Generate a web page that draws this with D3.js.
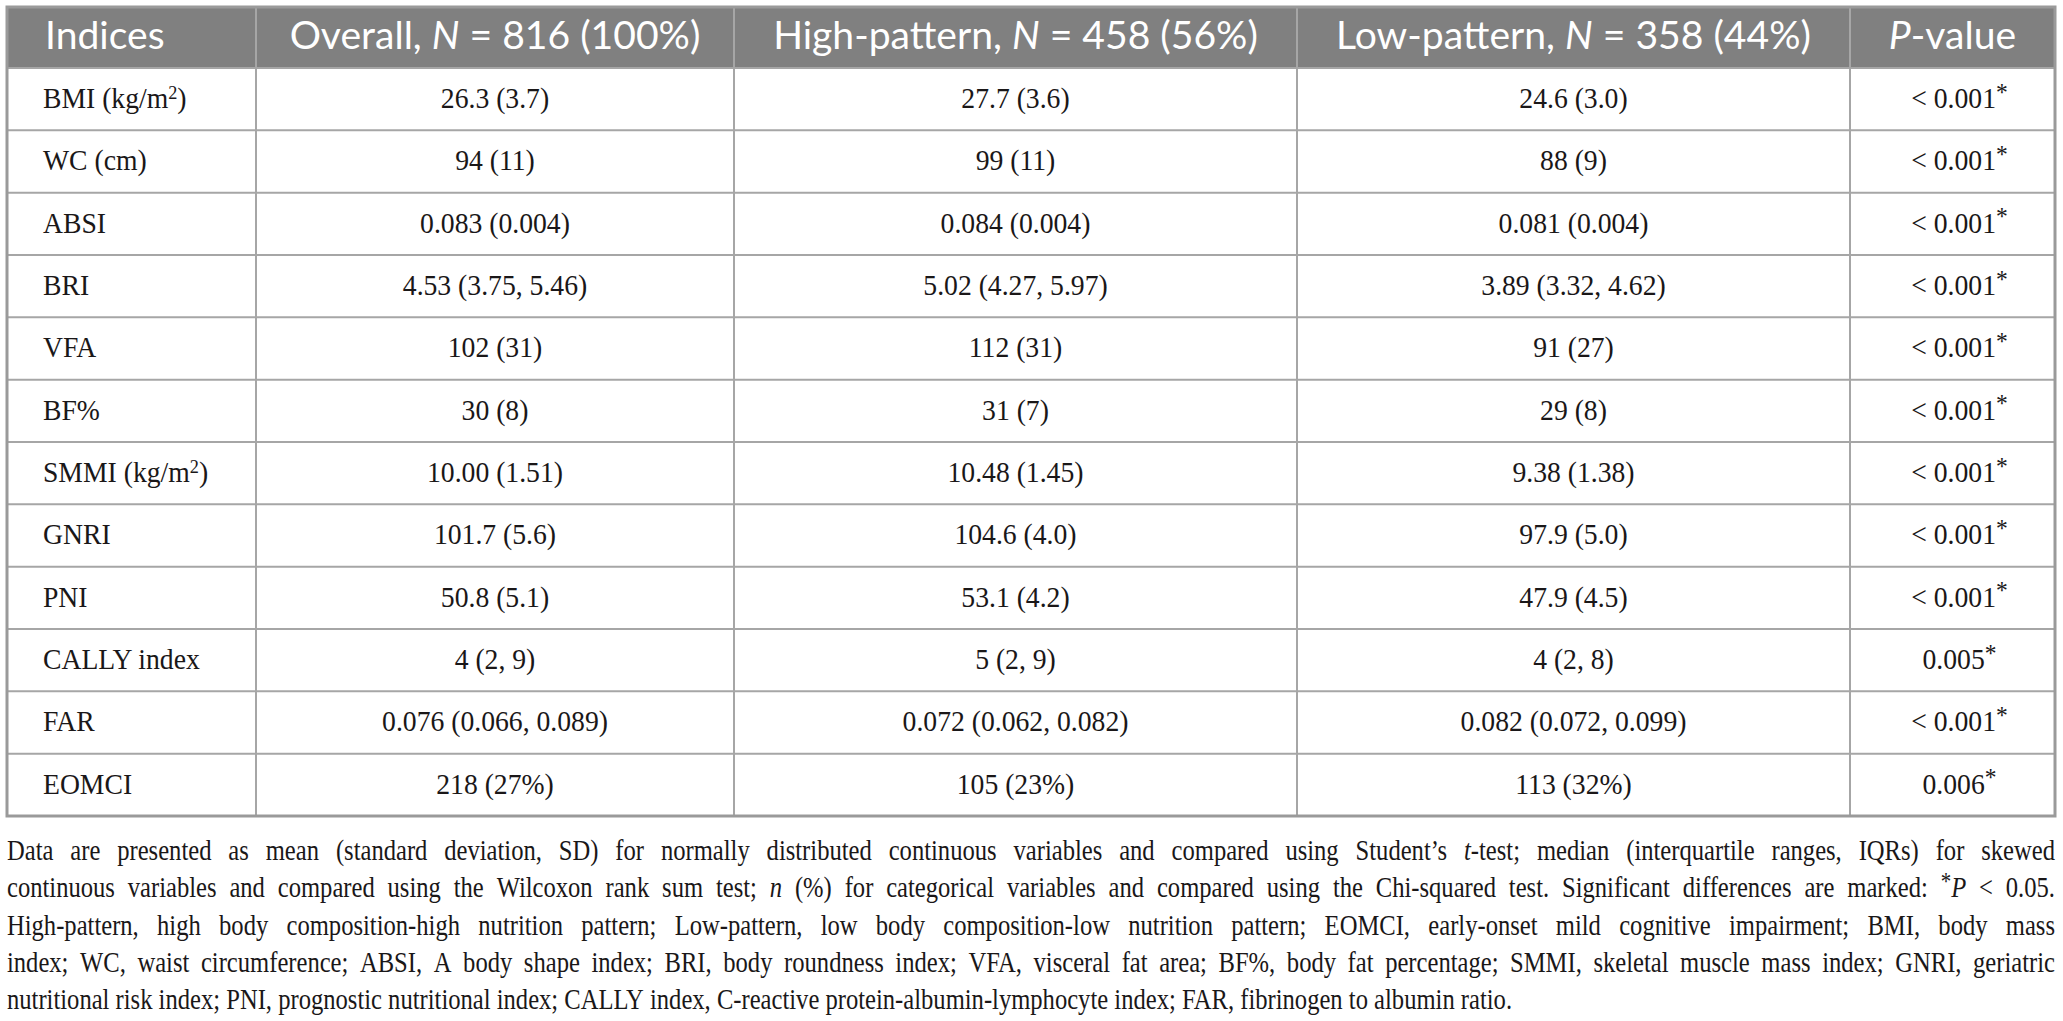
<!DOCTYPE html>
<html>
<head>
<meta charset="utf-8">
<script src="https://cdn.jsdelivr.net/npm/d3@7"></script>
<style>
  html, body { margin: 0; padding: 0; background: #fff; }
  svg { display: block; }
</style>
</head>
<body>
<div id="chart"></div>
<script>
// table data
// markup: _x_ = italic, ^c = superscript single char
const headers = ['Indices', 'Overall, _N_ = 816 (100%)', 'High-pattern, _N_ = 458 (56%)', 'Low-pattern, _N_ = 358 (44%)', '_P_-value']
const indices = ['BMI (kg/m^2)', 'WC (cm)', 'ABSI', 'BRI', 'VFA', 'BF%', 'SMMI (kg/m^2)', 'GNRI', 'PNI', 'CALLY index', 'FAR', 'EOMCI']
const overall = ['26.3 (3.7)', '94 (11)', '0.083 (0.004)', '4.53 (3.75, 5.46)', '102 (31)', '30 (8)', '10.00 (1.51)', '101.7 (5.6)', '50.8 (5.1)', '4 (2, 9)', '0.076 (0.066, 0.089)', '218 (27%)']
const highPattern = ['27.7 (3.6)', '99 (11)', '0.084 (0.004)', '5.02 (4.27, 5.97)', '112 (31)', '31 (7)', '10.48 (1.45)', '104.6 (4.0)', '53.1 (4.2)', '5 (2, 9)', '0.072 (0.062, 0.082)', '105 (23%)']
const lowPattern = ['24.6 (3.0)', '88 (9)', '0.081 (0.004)', '3.89 (3.32, 4.62)', '91 (27)', '29 (8)', '9.38 (1.38)', '97.9 (5.0)', '47.9 (4.5)', '4 (2, 8)', '0.082 (0.072, 0.099)', '113 (32%)']
const pValues = ['< 0.001^*', '< 0.001^*', '< 0.001^*', '< 0.001^*', '< 0.001^*', '< 0.001^*', '< 0.001^*', '< 0.001^*', '< 0.001^*', '0.005^*', '< 0.001^*', '0.006^*']
const footnote = [
  'Data are presented as mean (standard deviation, SD) for normally distributed continuous variables and compared using Student\u2019s _t_-test; median (interquartile ranges, IQRs) for skewed',
  'continuous variables and compared using the Wilcoxon rank sum test; _n_ (%) for categorical variables and compared using the Chi-squared test. Significant differences are marked: ^*_P_ < 0.05.',
  'High-pattern, high body composition-high nutrition pattern; Low-pattern, low body composition-low nutrition pattern; EOMCI, early-onset mild cognitive impairment; BMI, body mass',
  'index; WC, waist circumference; ABSI, A body shape index; BRI, body roundness index; VFA, visceral fat area; BF%, body fat percentage; SMMI, skeletal muscle mass index; GNRI, geriatric',
  'nutritional risk index; PNI, prognostic nutritional index; CALLY index, C-reactive protein-albumin-lymphocyte index; FAR, fibrinogen to albumin ratio.'
]

const W = 2063, H = 1021
const tLeft = 7, tRight = 2055, tTop = 7, headBottom = 68, tableBottom = 816
const colEdges = [tLeft, 256, 734, 1297, 1850, tRight]
const serif = '"Liberation Serif", "DejaVu Serif", serif'
const sans = 'Lato, "Open Sans", sans-serif'
const ink = '#1a1718'

const svg = d3.select('#chart').append('svg').attr('width', W).attr('height', H)

const y = d3.scaleBand().domain(indices).range([headBottom, tableBottom])
const cols = d3.range(headers.length)
const colX0 = d3.scaleOrdinal().domain(cols).range(colEdges.slice(0, -1))
const colX1 = d3.scaleOrdinal().domain(cols).range(colEdges.slice(1))

// rich text: italic runs and one-char superscripts
function rich(text, str) {
  let italic = false, raised = false
  const parts = []
  let buf = ''
  const flush = () => { if (buf) parts.push({ t: buf, i: italic, s: false }); buf = '' }
  for (let k = 0; k < str.length; k++) {
    const c = str[k]
    if (c === '_') { flush(); italic = !italic }
    else if (c === '^') { flush(); parts.push({ t: str[k + 1], i: italic, s: true }); k++ }
    else buf += c
  }
  flush()
  parts.forEach(p => {
    const ts = text.append('tspan').text(p.t)
    if (p.i) ts.attr('font-style', 'italic')
    if (p.s) {
      if (p.t === '*') ts.attr('font-size', '0.85em').attr('dy', '-0.3em')
      else ts.attr('font-size', '0.66em').attr('dy', '-0.5em')
      raised = p.t === '*' ? 0.3 * 0.85 : 0.5 * 0.66
    } else if (raised) {
      ts.attr('dy', raised + 'em'); raised = false
    }
  })
  return text
}

// width of a string in a group, used to match the narrow face of the original
function measure(g, str) {
  const t = rich(g.append('text'), str)
  const w = t.node().getComputedTextLength()
  t.remove()
  return w
}

// header band
svg.append('rect')
  .attr('x', tLeft).attr('y', tTop)
  .attr('width', tRight - tLeft).attr('height', headBottom - tTop)
  .attr('fill', '#808080')

const headText = svg.append('g')
  .attr('font-family', sans).attr('font-size', 32).attr('fill', '#fff')

headText.attr('font-size', 32 * 485 / measure(headText, headers[2]))

headers.forEach((h, i) => {
  const t = headText.append('text')
    .attr('x', i === 0 ? colX0(i) + 38 : (colX0(i) + colX1(i)) / 2)
    .attr('y', (tTop + headBottom) / 2 + 11)
    .attr('text-anchor', i === 0 ? 'start' : 'middle')
  rich(t, h)
})

// body cells
const columns = [indices, overall, highPattern, lowPattern, pValues]
const body = svg.append('g').attr('font-family', serif).attr('font-size', 29).attr('fill', ink)
const bx = 226 / measure(body, lowPattern[10])
body.attr('transform', `scale(${bx},1)`)

columns.forEach((vals, i) => {
  // p-values are centred on the number, the asterisk hangs
  const nudge = i === 4 ? 7 : 0
  vals.forEach((v, r) => {
    const t = body.append('text')
      .attr('x', (i === 0 ? colX0(i) + 36 : (colX0(i) + colX1(i)) / 2 + nudge) / bx)
      .attr('y', y(indices[r]) + y.bandwidth() / 2 + 9)
      .attr('text-anchor', i === 0 ? 'start' : 'middle')
    rich(t, v)
  })
})

// grid lines
const grid = svg.append('g').attr('stroke', '#a6a6a6').attr('stroke-width', 2)
grid.selectAll('line.h')
  .data(indices.slice(1))
  .join('line')
  .attr('x1', tLeft).attr('x2', tRight)
  .attr('y1', d => y(d)).attr('y2', d => y(d))
grid.append('line')
  .attr('x1', tLeft).attr('x2', tRight)
  .attr('y1', headBottom).attr('y2', headBottom)
grid.selectAll('line.v')
  .data(cols.slice(1))
  .join('line')
  .attr('x1', d => colX0(d)).attr('x2', d => colX0(d))
  .attr('y1', tTop).attr('y2', tableBottom)

svg.append('rect')
  .attr('x', tLeft).attr('y', tTop)
  .attr('width', tRight - tLeft).attr('height', tableBottom - tTop)
  .attr('fill', 'none').attr('stroke', '#9a9a9a').attr('stroke-width', 3)

// footnote, justified line by line
const fn = svg.append('g').attr('font-family', serif).attr('font-size', 29).attr('fill', ink)
const sx = (1512 - tLeft) / measure(fn, footnote[4])
fn.attr('transform', `scale(${sx},1)`)

const spaceW = measure(fn, 'a a') - measure(fn, 'aa')

footnote.forEach((line, li) => {
  const baseline = 860 + li * 37.3
  // split into words keeping italic state
  let italic = false
  const words = line.split(' ').map(w => {
    const pre = italic ? '_' : ''
    const n = (w.match(/_/g) || []).length
    if (n % 2) italic = !italic
    return pre + w + (italic ? '_' : '')
  })
  const texts = words.map(w => rich(fn.append('text').attr('y', baseline), w))
  const widths = texts.map(t => t.node().getComputedTextLength())
  const total = d3.sum(widths)
  const last = li === footnote.length - 1
  const gap = last ? spaceW : ((tRight - tLeft) / sx - total) / (words.length - 1)
  let x = tLeft / sx
  texts.forEach((t, k) => { t.attr('x', x); x += widths[k] + gap })
})
</script>
</body>
</html>
